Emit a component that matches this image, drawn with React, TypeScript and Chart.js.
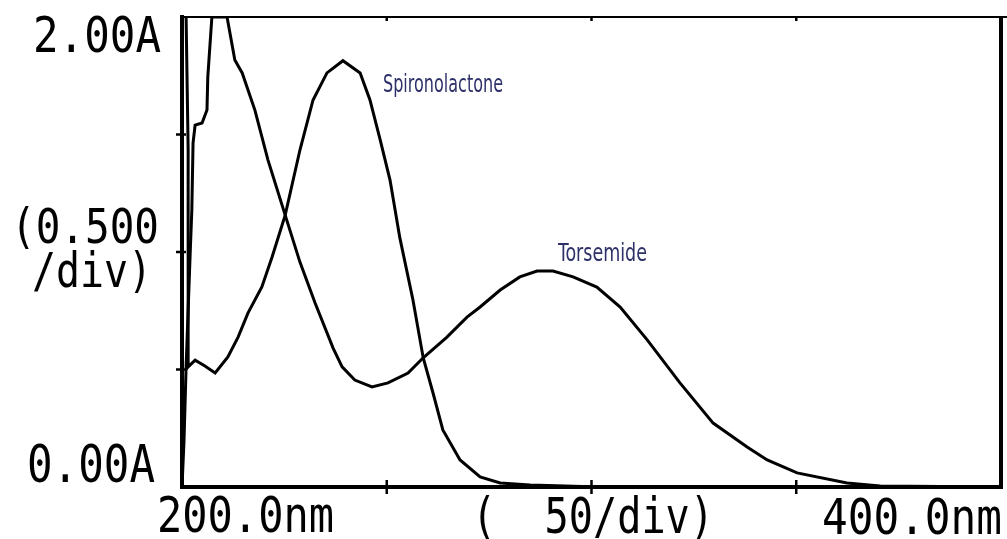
import React, { useEffect, useRef } from "react";
import { Chart, registerables } from "chart.js";

Chart.register(...registerables);

// Wavelength (nm) and absorbance (A)
const torsemideNm = [200.0, 200.5, 201.0, 202.0, 202.4, 202.7, 203.2, 204.9, 206.1, 206.3, 207.3, 211.0, 212.9, 214.7, 217.8, 221.0, 225.2, 228.8, 232.5, 236.9, 239.1, 242.2, 246.4, 250.3, 255.2, 258.9, 264.7, 269.6, 272.8, 277.7, 282.5, 286.7, 290.6, 295.5, 301.3, 307.0, 313.6, 321.6, 329.7, 338.0, 342.9, 350.2, 362.4, 370.5, 400.0];
const torsemideAbs = [0.0, 0.2, 0.511, 0.996, 1.179, 1.464, 1.54, 1.549, 1.604, 1.745, 2.0, 2.0, 1.817, 1.762, 1.604, 1.391, 1.157, 0.957, 0.783, 0.591, 0.511, 0.455, 0.426, 0.443, 0.485, 0.55, 0.638, 0.723, 0.766, 0.838, 0.894, 0.919, 0.919, 0.894, 0.851, 0.766, 0.626, 0.443, 0.272, 0.17, 0.115, 0.06, 0.017, 0.004, 0.0];

const spiroNm = [201.0, 201.5, 201.5, 203.2, 205.6, 208.1, 211.2, 213.7, 216.1, 219.5, 222.0, 225.2, 228.8, 232.0, 235.4, 239.3, 243.5, 245.9, 248.4, 250.8, 253.2, 256.4, 258.9, 261.3, 263.7, 267.9, 272.8, 277.7, 285.0, 302.1, 400.0];
const spiroAbs = [2.0, 1.434, 0.511, 0.54, 0.515, 0.485, 0.553, 0.638, 0.74, 0.851, 0.979, 1.157, 1.434, 1.647, 1.762, 1.814, 1.762, 1.647, 1.477, 1.306, 1.06, 0.796, 0.55, 0.4, 0.243, 0.115, 0.043, 0.017, 0.009, 0.0, 0.0];

const xMin = 200;
const xMax = 400;
const yMin = 0;
const yMax = 2.0;
const xTickValues = [250, 300, 350];
const yTickValues = [0.5, 1.0, 1.5];

const yTopLabel = "2.00A";
const yBottomLabel = "0.00A";
const yDivLabel1 = "(0.500";
const yDivLabel2 = "/div)";
const xLeftLabel = "200.0nm";
const xDivLabel = "(  50/div)";
const xRightLabel = "400.0nm";
const spiroName = "Spironolactone";
const torsemideName = "Torsemide";

const MONO = "'DejaVu Sans Mono', 'Liberation Mono', monospace";
const NARROW = "'Liberation Sans Narrow', 'DejaVu Sans Condensed', 'Roboto', sans-serif";

function fitText(
  ctx: CanvasRenderingContext2D,
  text: string,
  x: number,
  baseline: number,
  width: number,
  size: number,
  family: string,
  color: string
) {
  ctx.save();
  ctx.font = `${size}px ${family}`;
  const w = ctx.measureText(text).width || 1;
  ctx.translate(x, baseline);
  ctx.scale(width / w, 1);
  ctx.fillStyle = color;
  ctx.textAlign = "left";
  ctx.textBaseline = "alphabetic";
  ctx.fillText(text, 0, 0);
  ctx.restore();
}

const framePlugin = {
  id: "framePlugin",
  afterDraw(chart: any) {
    const ctx: CanvasRenderingContext2D = chart.ctx;
    const { left, top, right, bottom } = chart.chartArea;
    const xs = chart.scales.x;
    const ys = chart.scales.y;
    ctx.save();
    ctx.strokeStyle = "#000";
    ctx.lineCap = "butt";
    // top border (thin)
    ctx.lineWidth = 2;
    ctx.beginPath();
    ctx.moveTo(left, top);
    ctx.lineTo(chart.width, top);
    ctx.stroke();
    // left, bottom, right borders (thick)
    ctx.lineWidth = 4;
    ctx.beginPath();
    ctx.moveTo(left, top - 2);
    ctx.lineTo(left, bottom + 2);
    ctx.moveTo(left - 2, bottom);
    ctx.lineTo(right + 2, bottom);
    ctx.moveTo(right, top);
    ctx.lineTo(right, bottom + 2);
    ctx.stroke();
    // ticks
    ctx.lineWidth = 2.5;
    ctx.beginPath();
    xTickValues.forEach((v) => {
      const px = xs.getPixelForValue(v);
      ctx.moveTo(px, bottom - 7);
      ctx.lineTo(px, bottom + 7);
      ctx.moveTo(px, top);
      ctx.lineTo(px, top + 4);
    });
    yTickValues.forEach((v) => {
      const py = ys.getPixelForValue(v);
      ctx.moveTo(left - 6, py);
      ctx.lineTo(left + 4, py);
    });
    ctx.stroke();
    ctx.restore();

    const yTop = ys.getPixelForValue(yMax);
    const yBot = ys.getPixelForValue(yMin);
    // axis texts
    fitText(ctx, yTopLabel, 33, yTop + 35, 128, 50, MONO, "#000");
    fitText(ctx, yDivLabel1, 11, yTop + 226, 148, 48, MONO, "#000");
    fitText(ctx, yDivLabel2, 32, yTop + 270, 120, 48, MONO, "#000");
    fitText(ctx, yBottomLabel, 27, yBot - 5, 128, 52, MONO, "#000");
    fitText(ctx, xLeftLabel, 157, yBot + 45, 177, 50, MONO, "#000");
    fitText(ctx, xDivLabel, 472, yBot + 46, 242, 50, MONO, "#000");
    fitText(ctx, xRightLabel, 822, yBot + 47, 180, 50, MONO, "#000");

    // curve names
    fitText(ctx, spiroName, 383, yTop + 75, 120, 25, NARROW, "#2e3168");
    fitText(ctx, torsemideName, 558, yTop + 244, 89, 25, NARROW, "#2e3168");
  },
};

export default function App() {
  const canvasRef = useRef<HTMLCanvasElement | null>(null);

  useEffect(() => {
    if (!canvasRef.current) return;
    const torsemideData = torsemideNm.map((x, i) => ({ x, y: torsemideAbs[i] }));
    const spiroData = spiroNm.map((x, i) => ({ x, y: spiroAbs[i] }));
    const chart = new Chart(canvasRef.current, {
      type: "line",
      data: {
        datasets: [
          {
            label: torsemideName,
            data: torsemideData,
            borderColor: "#000",
            borderWidth: 3,
            pointRadius: 0,
            tension: 0,
            fill: false,
          },
          {
            label: spiroName,
            data: spiroData,
            borderColor: "#000",
            borderWidth: 3,
            pointRadius: 0,
            tension: 0,
            fill: false,
          },
        ],
      },
      options: {
        responsive: false,
        animation: false,
        layout: { padding: { left: 182, top: 17, right: 6, bottom: 52 } },
        plugins: {
          legend: { display: false },
          tooltip: { enabled: false },
        },
        scales: {
          x: { type: "linear", min: xMin, max: xMax, display: false },
          y: { type: "linear", min: yMin, max: yMax, display: false },
        },
      },
      plugins: [framePlugin],
    });
    return () => chart.destroy();
  }, []);

  return (
    <div style={{ position: "absolute", left: 0, top: 0, width: 1007, height: 539, background: "#fff" }}>
      <canvas ref={canvasRef} width={1007} height={539} style={{ width: 1007, height: 539, display: "block" }} />
    </div>
  );
}
